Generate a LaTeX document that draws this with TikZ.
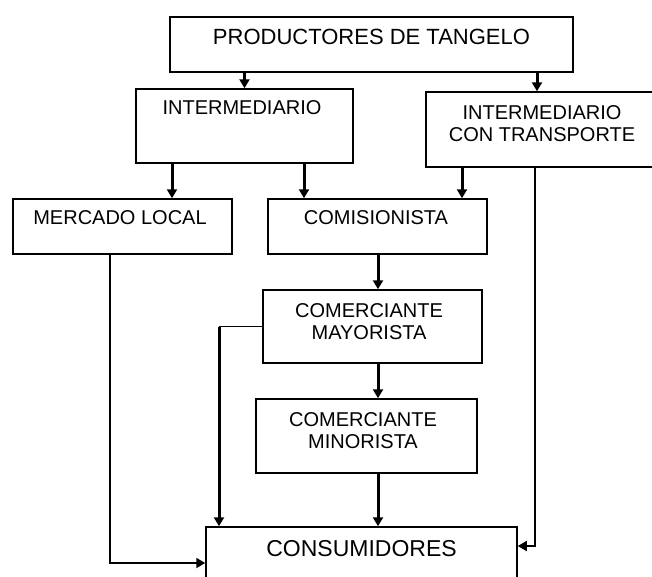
\documentclass[tikz,border=0pt]{standalone}
\usepackage{fontspec}
\setmainfont{Liberation Sans}
\usetikzlibrary{arrows.meta}

\begin{document}
\begin{tikzpicture}[x=1pt,y=-1pt,>={Triangle[width=10pt,length=9pt]},
    caja/.style={draw,line width=1.5pt,inner sep=0pt},
    txt/.style={inner sep=0pt,align=center,font=\fontsize{20}{22}\selectfont},
    flecha/.style={line width=3pt,->},
    linea/.style={line width=1.8pt}]
          \useasboundingbox (0,0) rectangle (652,576);
          % cajas
          \node[caja,minimum width=403pt,minimum height=55pt] (prod) at (371.5,44.5) {};
          \node[caja,minimum width=217pt,minimum height=74pt] (inter) at (244.5,126) {};
          \node[caja,minimum width=234pt,minimum height=75pt] (ict) at (543,129.5) {};
          \node[caja,minimum width=219pt,minimum height=55pt] (merc) at (122.5,226.5) {};
          \node[caja,minimum width=219pt,minimum height=55pt] (comi) at (377.5,226.5) {};
          \node[caja,minimum width=219pt,minimum height=73pt] (mayo) at (372.5,326.5) {};
          \node[caja,minimum width=221pt,minimum height=74pt] (mino) at (366.5,436) {};
          \node[caja,minimum width=311pt,minimum height=72pt] (cons) at (361.5,563) {};
          % textos
          \node[txt,font=\fontsize{22}{24}\selectfont] (prod-t) at (371.5,37) {PRODUCTORES DE TANGELO};
          \node[txt] (inter-t) at (242,108) {INTERMEDIARIO};
          \node[txt] (ict-t) at (542,124) {INTERMEDIARIO\\CON TRANSPORTE};
          \node[txt] (merc-t) at (120,218) {MERCADO LOCAL};
          \node[txt] (comi-t) at (376,218) {COMISIONISTA};
          \node[txt] (mayo-t) at (369,321.5) {COMERCIANTE\\MAYORISTA};
          \node[txt] (mino-t) at (363,431) {COMERCIANTE\\MINORISTA};
          \node[txt,font=\fontsize{23}{25}\selectfont] (cons-t) at (361.5,549) {CONSUMIDORES};
          % flechas
          \draw[flecha] (prod.south -| inter.north) -- (inter.north);
          \draw[flecha] (prod.south -| 537,0) -- (ict.north -| 537,0);
          \draw[flecha] (inter.south -| 172,0) -- (merc.north -| 172,0);
          \draw[flecha] (inter.south -| 304,0) -- (comi.north -| 304,0);
          \draw[flecha] (ict.south -| 462,0) -- (comi.north -| 462,0);
          \draw[flecha] (comi.south -| 378,0) -- (mayo.north -| 378,0);
          \draw[flecha] (mayo.south -| 378,0) -- (mino.north -| 378,0);
          \draw[flecha] (mino.south -| 378,0) -- (cons.north -| 378,0);
          \draw[linea] (mayo.west) -- (mayo.west -| 219,0) coordinate (m1);   % mayorista
          \draw[flecha] (m1) -- (cons.north -| m1);
          \draw[linea,->] (merc.south -| 110,0) |- (cons.west);                 % mercado local
          \draw[linea,->] (ict.south -| 535,0) |- (cons.east |- 0,546);        % con transporte
\end{tikzpicture}
\end{document}
